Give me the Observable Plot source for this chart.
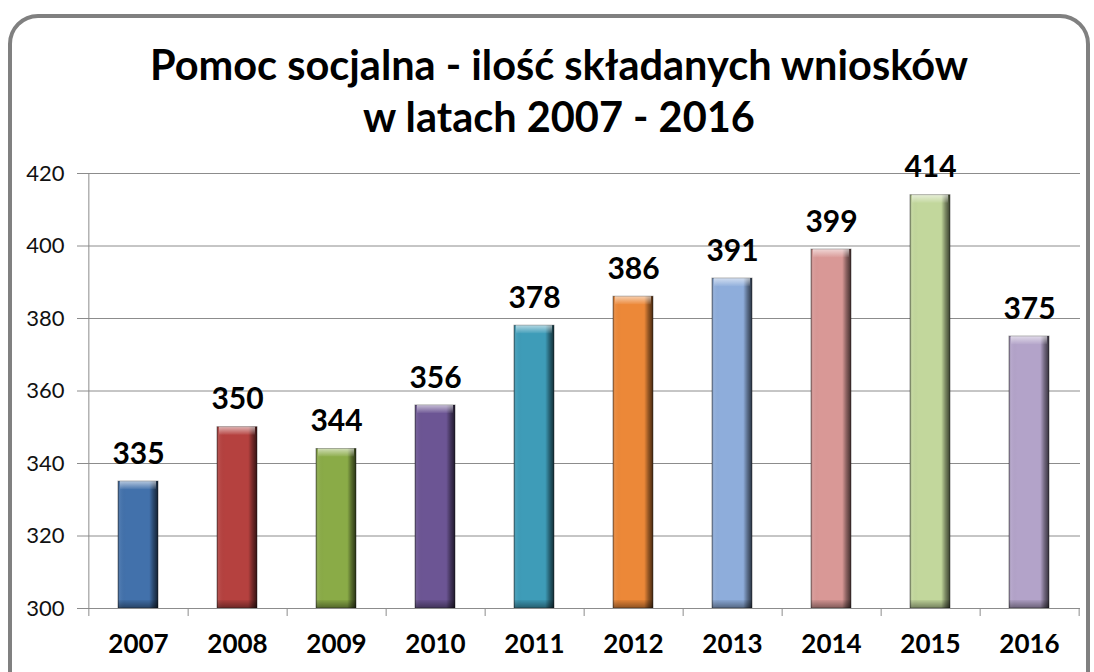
<!DOCTYPE html>
<html>
<head>
<meta charset="utf-8">
<script src="https://cdn.jsdelivr.net/npm/d3@7"></script>
<script src="https://cdn.jsdelivr.net/npm/@observablehq/plot@0.6"></script>
<style>
  html, body { margin: 0; padding: 0; background: #fff; width: 1094px; height: 672px; overflow: hidden; }
  #frame { position: absolute; left: 8px; top: 14px; width: 1082px; height: 700px; border: 4px solid #808080; border-radius: 30px; box-sizing: border-box; }
  #wrap { position: absolute; left: 0; top: 0; width: 1094px; }
  #title { height: 150px; box-sizing: border-box; padding-top: 38px; text-align: center; font-family: Lato, "Open Sans", sans-serif; font-weight: bold; font-size: 41.5px; line-height: 52px; color: #000; padding-left: 24px; }
  svg { display: block; }
</style>
</head>
<body>
<div id="frame"></div>
<div id="wrap">
  <div id="title">Pomoc socjalna - ilość składanych wniosków<br>w latach 2007 - 2016</div>
  <div id="chart"></div>
</div>
<script>
const years = ["2007","2008","2009","2010","2011","2012","2013","2014","2015","2016"];
const values = [335, 350, 344, 356, 378, 386, 391, 399, 414, 375];
const colors = ["#4271ab","#b5413f","#8aab47","#6c5594","#3e9cb8","#ec8838","#8eaddb","#d99896","#c2d79c","#b3a3c9"];
const yTicks = [300, 320, 340, 360, 380, 400, 420];

const data = years.map((y, i) => ({year: y, value: values[i], color: colors[i]}));

const W = 1094, H = 522, mL = 87, mR = 14, mT = 23, mB = 64;
const step = (W - mL - mR) / years.length;
const ph = H - mT - mB;
const yMin = 300, yMax = 420;
const cap = (yMax - yMin) * 8 / ph; // bevel depth in data units (~8px)

const chart = Plot.plot({
  width: W, height: H,
  marginLeft: mL, marginRight: mR, marginTop: mT, marginBottom: mB,
  style: {fontFamily: "Lato, 'Open Sans', sans-serif", color: "#000", overflow: "visible"},
  x: {domain: years, paddingInner: 0.6, paddingOuter: 0.3, label: null},
  y: {domain: [yMin, yMax], label: null},
  marks: [
    Plot.gridY(yTicks, {stroke: "#8c8c8c", strokeOpacity: 1, strokeWidth: 1}),
    Plot.ruleX([years[0]], {x: d => d, dx: -step / 2, stroke: "#8c8c8c"}),
    Plot.ruleX(years, {x: d => d, dx: step / 2, stroke: "#8c8c8c", insetTop: ph, insetBottom: -8}),
    Plot.ruleX([years[0]], {x: d => d, dx: -step / 2, stroke: "#8c8c8c", insetTop: ph, insetBottom: -8}),
    Plot.axisY({ticks: yTicks, tickSize: 10, tickPadding: 13, fontSize: 22, stroke: "#8c8c8c", fill: "#111", tickFormat: d => String(d)}),
    Plot.axisX({tickSize: 0, tickPadding: 26, fontSize: 26, fontWeight: "bold"}),
    Plot.barY(data, {x: "year", y1: yMin, y2: "value", fill: "color", stroke: "#222", strokeOpacity: 0.45, strokeWidth: 1}),
    Plot.barY(data, {x: "year", y1: yMin, y2: "value", fill: "url(#hshade)"}),
    Plot.barY(data, {x: "year", y1: d => d.value - cap, y2: "value", fill: "url(#topcap)", insetLeft: 2, insetRight: 2}),
    Plot.barY(data, {x: "year", y1: yMin, y2: yMin + cap, fill: "url(#botcap)"}),
    Plot.ruleY([yMin], {stroke: "#8c8c8c"}),
    Plot.text(data, {x: "year", y: "value", text: d => String(d.value), lineAnchor: "bottom", dy: -18, fontSize: 30, fontWeight: "bold", fill: "#000"})
  ]
});

const defs = d3.select(chart).insert("defs", ":first-child");
function grad(id, horizontal, stops) {
  const g = defs.append("linearGradient").attr("id", id)
    .attr("x1", 0).attr("y1", 0).attr("x2", horizontal ? 1 : 0).attr("y2", horizontal ? 0 : 1);
  stops.forEach(([o, c, a]) => g.append("stop").attr("offset", o).attr("stop-color", c).attr("stop-opacity", a));
}
grad("hshade", true, [[0, "#000", 0.35],[0.06, "#fff", 0.05],[0.2, "#000", 0],[0.78, "#000", 0],[0.88, "#000", 0.35],[1, "#000", 0.7]]);
grad("topcap", false, [[0, "#fff", 0.6],[1, "#fff", 0.05]]);
grad("botcap", false, [[0, "#000", 0.05],[1, "#000", 0.4]]);

document.getElementById("chart").appendChild(chart);
</script>
</body>
</html>
